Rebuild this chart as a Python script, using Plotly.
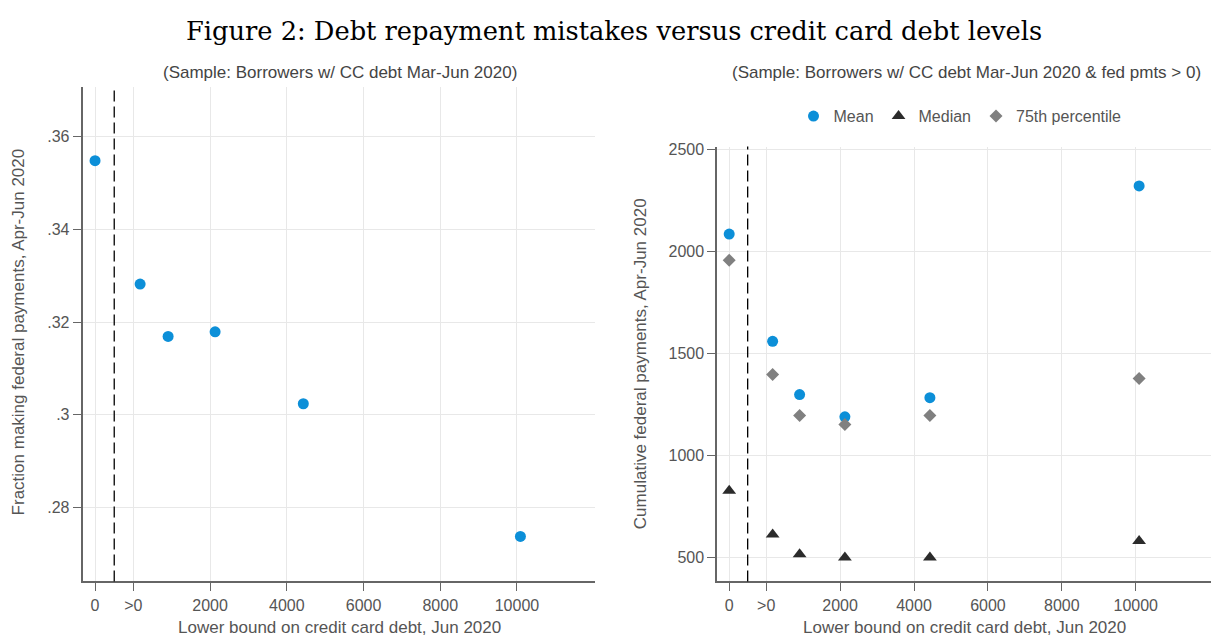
import plotly.graph_objects as go

# ---------------- data ----------------
x_pos = [-1000, 175, 905, 2130, 4430, 10090]          # plotted position of each debt bin
frac_making_payments = [0.3548, 0.3282, 0.3169, 0.3179, 0.3024, 0.2738]
mean_payments = [2086, 1560, 1299, 1190, 1284, 2322]
median_payments = [828, 613, 516, 500, 500, 581]
p75_payments = [1958, 1398, 1196, 1152, 1196, 1378]

x_tickvals = [-1000, 0, 2000, 4000, 6000, 8000, 10000]
x_ticktext = ["0", ">0", "2000", "4000", "6000", "8000", "10000"]
y1_tickvals = [0.28, 0.30, 0.32, 0.34, 0.36]
y1_ticktext = [".28", ".3", ".32", ".34", ".36"]
y2_tickvals = [500, 1000, 1500, 2000, 2500]
cutoff_line = -500

W, H = 1211, 636
SANS = "Liberation Sans, Arial, sans-serif"
TXT = "#555555"
BLUE = "#0c8fd8"

fig = go.Figure()

fig.add_trace(go.Scatter(x=x_pos, y=frac_making_payments, mode="markers",
                         marker=dict(symbol="circle", size=11, color=BLUE),
                         showlegend=False, xaxis="x", yaxis="y"))

fig.add_trace(go.Scatter(x=x_pos, y=mean_payments, mode="markers", name="Mean",
                         marker=dict(symbol="circle", size=11, color=BLUE),
                         xaxis="x2", yaxis="y2"))
fig.add_trace(go.Scatter(x=x_pos, y=median_payments, mode="markers", name="Median",
                         marker=dict(symbol="triangle-up", size=12, color="#2b2b2b"),
                         xaxis="x2", yaxis="y2"))
fig.add_trace(go.Scatter(x=x_pos, y=p75_payments, mode="markers", name="75th percentile",
                         marker=dict(symbol="diamond", size=10, color="#808080"),
                         xaxis="x2", yaxis="y2"))

def px_x(p):
    return p / W

def px_y(p):
    return 1 - p / H

xr = [-1322, 12035]
common_x = dict(range=xr, tickmode="array", tickvals=x_tickvals, ticktext=x_ticktext,
                showgrid=True, gridcolor="#e8e8e8", gridwidth=1, zeroline=False,
                showline=True, linecolor="#666666", linewidth=2,
                ticks="outside", ticklen=8, tickcolor="#666666", tickwidth=1,
                tickfont=dict(family=SANS, size=16, color=TXT))
common_y = dict(showgrid=True, gridcolor="#e8e8e8", gridwidth=1, zeroline=False,
                showline=True, linecolor="#666666", linewidth=2,
                ticks="outside", ticklen=8, tickcolor="#666666", tickwidth=1,
                tickfont=dict(family=SANS, size=16, color=TXT))

fig.update_layout(
    width=W, height=H, margin=dict(l=0, r=0, t=0, b=0),
    paper_bgcolor="white", plot_bgcolor="white",
    xaxis=dict(domain=[px_x(82.7), px_x(595)], anchor="y", **common_x),
    yaxis=dict(domain=[px_y(581), px_y(83)], anchor="x", range=[0.2641, 0.3706],
               tickmode="array", tickvals=y1_tickvals, ticktext=y1_ticktext, **common_y),
    xaxis2=dict(domain=[px_x(717.3), 1.0], anchor="y2", **common_x),
    yaxis2=dict(domain=[px_y(581), px_y(142.7)], anchor="x2", range=[383, 2515],
                tickmode="array", tickvals=y2_tickvals, **common_y),
    showlegend=True,
    legend=dict(orientation="h", x=px_x(960), y=px_y(112), xanchor="center", yanchor="middle",
                font=dict(family=SANS, size=16, color=TXT), bgcolor="rgba(0,0,0,0)",
                itemwidth=30),
)

for xa, ya in (("x", "y"), ("x2", "y2")):
    fig.add_shape(type="line", xref=xa, yref=f"{ya} domain", x0=cutoff_line, x1=cutoff_line,
                  y0=0, y1=1, line=dict(color="black", width=1.3, dash="11px,5px"))

ann = [
    dict(text="Figure 2: Debt repayment mistakes versus credit card debt levels",
         x=px_x(614), y=px_y(26), font=dict(family="DejaVu Serif, serif", size=25.7, color="black")),
    dict(text="(Sample: Borrowers w/ CC debt Mar-Jun 2020)", x=px_x(340), y=px_y(68),
         font=dict(family=SANS, size=17, color="#444444")),
    dict(text="(Sample: Borrowers w/ CC debt Mar-Jun 2020 & fed pmts > 0)", x=px_x(966), y=px_y(68),
         font=dict(family=SANS, size=17, color="#444444")),
    dict(text="Lower bound on credit card debt, Jun 2020", x=px_x(339), y=px_y(627),
         font=dict(family=SANS, size=17, color=TXT)),
    dict(text="Lower bound on credit card debt, Jun 2020", x=px_x(964), y=px_y(627),
         font=dict(family=SANS, size=17, color=TXT)),
    dict(text="Fraction making federal payments, Apr-Jun 2020", x=px_x(18), y=px_y(330),
         textangle=-90, font=dict(family=SANS, size=17, color=TXT)),
    dict(text="Cumulative federal payments, Apr-Jun 2020", x=px_x(640), y=px_y(362),
         textangle=-90, font=dict(family=SANS, size=17, color=TXT)),
]
for a in ann:
    fig.add_annotation(xref="paper", yref="paper", showarrow=False,
                       xanchor="center", yanchor="middle", **a)

fig.write_html("out.html")
